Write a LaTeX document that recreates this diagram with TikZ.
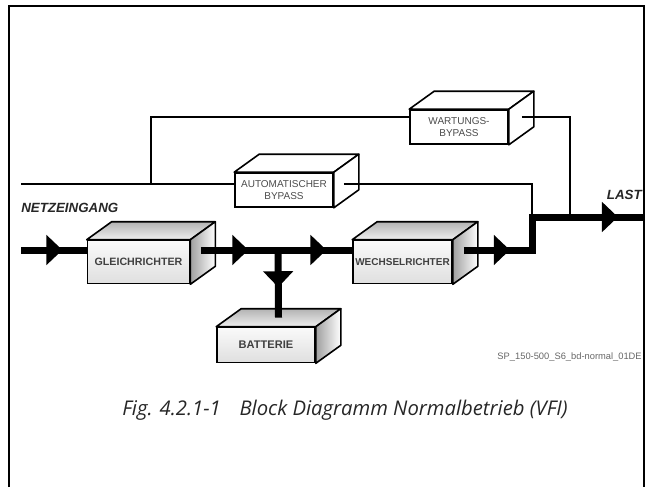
\documentclass[tikz,border=0pt]{standalone}
\usepackage{fontspec}
\setmainfont{Liberation Sans}
\newfontfamily\capfont{Open Sans}
\usetikzlibrary{arrows.meta,calc,decorations.markings}
\tikzset{
  frame/.style={line width=1.7pt},
  bypass/.style={draw, line width=1.2pt, fill=white, minimum width=73.5pt, minimum height=25.5pt, inner sep=0pt, align=center, text=black!70, font=\fontsize{7.5}{8.5}\selectfont},
  unit/.style={draw, line width=1.2pt, top color=gray!4, bottom color=gray!25, minimum width=76.5pt, minimum height=32.25pt, inner sep=0pt, align=center, text=black!75, font=\fontsize{8}{9}\selectfont\bfseries},
  face/.style={draw, line width=1.2pt, line join=round},
  thinline/.style={line width=1pt},
  flow/.style={line width=5.25pt, line join=miter},
  arrowat/.style={postaction={decorate, decoration={markings, mark=at position #1 with {\arrow{Triangle[length=12pt, width=22pt]}}}}},
  flowlabel/.style={font=\fontsize{10}{12}\selectfont\bfseries\itshape, text=black!85, inner sep=0pt},
  codelabel/.style={font=\fontsize{7}{8}\selectfont, text=black!60, inner sep=0pt},
  caption/.style={font=\capfont\itshape\fontsize{15.2}{17}\selectfont, text=black!85, inner sep=0pt}
}
\begin{document}
\begin{tikzpicture}[x=0.75pt,y=-0.75pt]
  \useasboundingbox (0,0) rectangle (653,487);
  \draw[frame] (9,487) |- (644,6) -- (644,487);

  % units
  \node[bypass] (wb) at (459,127) {WARTUNGS-\\BYPASS};
  \node[bypass] (ab) at (284,190) {AUTOMATISCHER\\BYPASS};
  \node[unit] (gl) at (138.5,262) {GLEICHRICHTER};
  \node[unit, minimum width=74.25pt, font=\fontsize{7.5}{9}\selectfont\bfseries] (wr) at (402.5,262) {WECHSELRICHTER};
  \node[unit, minimum width=73.5pt, minimum height=26.25pt, font=\fontsize{8.3}{9}\selectfont\bfseries] (bat) at (266,345) {BATTERIE};

  \foreach \b in {wb,ab} {
    \filldraw[face, fill=white] (\b.north west) -- ($(\b.north west)+(25,-18)$) -- ($(\b.north east)+(25,-18)$) -- (\b.north east) -- cycle;
    \filldraw[face, fill=white] (\b.north east) -- ($(\b.north east)+(25,-18)$) -- ($(\b.south east)+(25,-18)$) -- (\b.south east) -- cycle;
  }
  \foreach \b in {gl,wr,bat} {
    \shade[face, top color=gray!60, bottom color=gray!12] (\b.north west) -- ($(\b.north west)+(25,-18)$) -- ($(\b.north east)+(25,-18)$) -- (\b.north east) -- cycle;
    \shade[face, left color=gray!75, right color=white] (\b.north east) -- ($(\b.north east)+(25,-18)$) -- ($(\b.south east)+(25,-18)$) -- (\b.south east) -- cycle;
  }

  \coordinate (in) at (21,250);
  \coordinate (in2) at (21,184);
  \coordinate (t1) at (151,184);
  \coordinate (j) at (278,250);
  \coordinate (k1) at (532,250);
  \coordinate (k2) at (532,217);
  \coordinate (t2) at (570,217);
  \coordinate (out) at (643,217);

  % bypass lines
  \draw[thinline] (in2) -- (ab.west |- in2);
  \draw[thinline] (t1) |- ($(wb.west)+(0,-10)$);
  \draw[thinline] ($(wb.east)+(13,-10)$) -| (t2);
  \draw[thinline] ($(ab.east)+(10,-6)$) -| (k2);

  % power flow
  \draw[flow, arrowat=0.63] (in) -- (gl.west |- in);
  \draw[flow, arrowat=0.314, arrowat=0.83] ($(gl.east |- in)+(10.5,0)$) -- (wr.west |- in);
  \draw[flow, arrowat=0.55] (j) -- ($(bat.north)+(12.5,-9)$);
  \draw[flow, arrowat=0.217, arrowat=0.882] ($(wr.east |- in)+(11,0)$) -- (k1) -- (k2) -- (out);

  \node[flowlabel, anchor=west] (netz) at (21,208) {NETZEINGANG};
  \node[flowlabel, anchor=east] (last) at (642,195) {LAST};
  \node[codelabel, anchor=east] (code) at (642,357) {SP\_150-500\_S6\_bd-normal\_01DE};
  \node[caption] (cap) at (345,410) {Fig. 4.2.1-1\hspace{14pt}Block Diagramm Normalbetrieb (VFI)};
\end{tikzpicture}
\end{document}
